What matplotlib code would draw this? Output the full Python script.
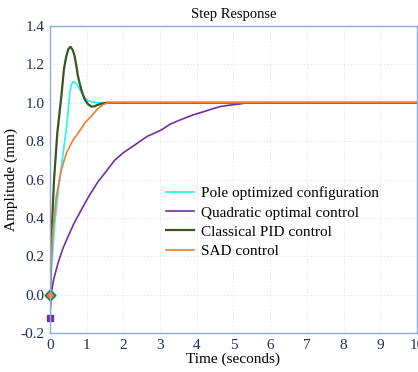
import matplotlib.pyplot as plt

plt.rcParams['font.family'] = ['Liberation Serif', 'DejaVu Serif']

# points (time s, amplitude mm)
t_pole = [0, 0.02, 0.13, 0.26, 0.36, 0.44, 0.49, 0.54, 0.58, 0.63, 0.69, 0.76, 0.85, 0.94, 1.03, 1.13, 1.3, 10]
y_pole = [0, 0.08, 0.373, 0.598, 0.74, 0.858, 0.948, 1.052, 1.095, 1.11, 1.105, 1.087, 1.055, 1.027, 1.013, 1.006, 1.0, 1.0]

t_quad = [0, 0.035, 0.1, 0.22, 0.35, 0.49, 0.65, 0.85, 1.05, 1.31, 1.5, 1.76, 2.0, 2.31, 2.65,
          3.03, 3.27, 3.6, 3.9, 4.18, 4.4, 4.63, 4.9, 5.18, 5.36, 10]
y_quad = [-0.12, 0.009, 0.08, 0.165, 0.24, 0.302, 0.37, 0.441, 0.51, 0.589, 0.635, 0.70, 0.74, 0.78, 0.825,
          0.858, 0.888, 0.915, 0.937, 0.953, 0.967, 0.98, 0.988, 0.994, 1.0, 1.0]

t_pid = [0, 0.035, 0.11, 0.2, 0.31, 0.38, 0.44, 0.5, 0.56, 0.62, 0.67, 0.72, 0.76, 0.85, 0.94,
         1.03, 1.13, 1.22, 1.31, 1.42, 1.53, 10]
y_pid = [0, 0.285, 0.598, 0.844, 1.035, 1.175, 1.24, 1.28, 1.292, 1.275, 1.244, 1.19, 1.14, 1.07, 1.02,
         0.994, 0.98, 0.982, 0.99, 0.996, 1.0, 1.0]

t_sad = [0, 0.02, 0.08, 0.17, 0.31, 0.45, 0.63, 0.76, 0.97, 1.13, 1.28, 1.44, 1.57, 10]
y_sad = [0, 0.13, 0.337, 0.51, 0.65, 0.74, 0.806, 0.84, 0.90, 0.93, 0.965, 0.99, 1.0, 1.0]

labels = ['Pole optimized configuration', 'Quadratic optimal control',
          'Classical PID control', 'SAD control']
colors = ['#33f2f2', '#7030a0', '#375623', '#ed7d31']

fig = plt.figure(figsize=(4.18, 3.72), dpi=100)
ax = fig.add_axes([0.1196, 0.1048, 0.878, 0.8252])

ax.plot(t_pole, y_pole, color=colors[0], lw=1.3, label=labels[0])
ax.plot(t_quad, y_quad, color=colors[1], lw=1.2, label=labels[1])
ax.plot(t_pid, y_pid, color=colors[2], lw=1.6, label=labels[2])
ax.plot(t_sad, y_sad, color=colors[3], lw=1.2, label=labels[3])

# start markers
ax.plot(t_pole[0], y_pole[0], 'D', color=colors[0], ms=6, clip_on=False)
ax.plot(t_quad[0], y_quad[0], 's', color=colors[1], ms=4.5, clip_on=False)
ax.plot(t_pid[0], y_pid[0], 'D', color=colors[2], ms=5, clip_on=False)
ax.plot(t_sad[0], y_sad[0], 'D', color=colors[3], ms=3.5, clip_on=False)

ax.set_xlim(0, 10)
ax.set_ylim(-0.2, 1.4)
ax.set_xticks(range(0, 11))
ax.set_yticks([-0.2, 0.0, 0.2, 0.4, 0.6, 0.8, 1.0, 1.2, 1.4])
ax.set_yticklabels(['-0.2', '0.0', '0.2', '0.4', '0.6', '0.8', '1.0', '1.2', '1.4'])
ax.tick_params(length=0, labelsize=11, labelcolor='#1f2d5c', pad=4)
ax.grid(True, color='#e6e6e0', ls=(0, (2, 2)), lw=0.6)
for s in ax.spines.values():
    s.set_color('#8faadc')
    s.set_linewidth(1.0)

ax.set_title('Step Response', fontsize=10.5, pad=6)
ax.set_xlabel('Time (seconds)', fontsize=11, labelpad=1)
ax.set_ylabel('Amplitude (mm)', fontsize=11, labelpad=2)

ax.legend(loc='upper left', bbox_to_anchor=(0.383, 0.515), bbox_transform=fig.transFigure,
          frameon=False, fontsize=11, handlelength=1.8, handletextpad=0.45,
          labelspacing=0.36, borderaxespad=0)

fig.savefig('out.png', dpi=100)
